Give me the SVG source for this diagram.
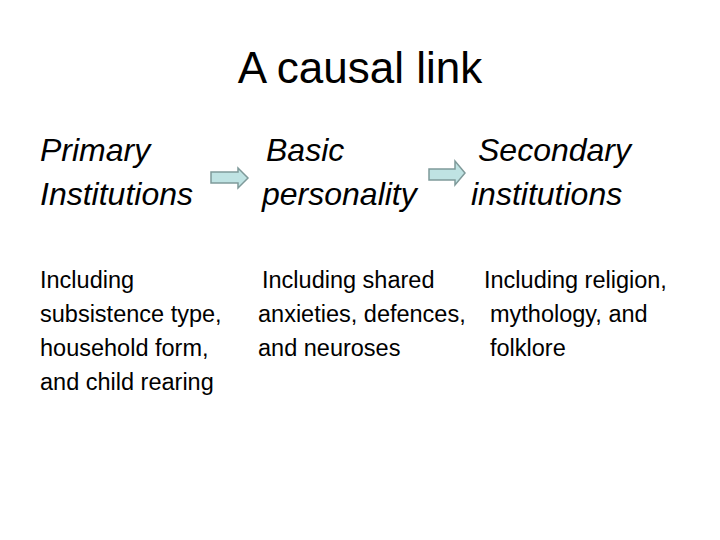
<svg xmlns="http://www.w3.org/2000/svg" width="720" height="540" viewBox="0 0 720 540">
<style>
text{font-family:"Liberation Sans",Arial,sans-serif;fill:#000}
.t{font-size:44px}
.h{font-size:32px;font-style:italic}
.b{font-size:23.5px}
.arr{fill:#bfe3e3;stroke:#7f9a9a;stroke-width:1.5}
</style>
<rect width="720" height="540" fill="#fff"/>
<text class="t" x="360" y="83" text-anchor="middle">A causal link</text>
<g id="primary">
<text class="h" x="40" y="161">Primary</text>
<text class="h" x="40" y="205">Institutions</text>
<text class="b"><tspan x="40" y="288">Including</tspan><tspan x="40" y="322">subsistence type,</tspan><tspan x="40" y="356">household form,</tspan><tspan x="40" y="390">and child rearing</tspan></text>
</g>
<g id="basic">
<text class="h" x="266" y="161">Basic</text>
<text class="h" x="262" y="205">personality</text>
<text class="b"><tspan x="262" y="288">Including shared</tspan><tspan x="258" y="322">anxieties, defences,</tspan><tspan x="258" y="356">and neuroses</tspan></text>
</g>
<g id="secondary">
<text class="h" x="478" y="161">Secondary</text>
<text class="h" x="471" y="205">institutions</text>
<text class="b"><tspan x="484" y="288">Including religion,</tspan><tspan x="490" y="322">mythology, and</tspan><tspan x="490" y="356">folklore</tspan></text>
</g>
<g id="connectors">
<path class="arr" d="M211,172 H238 V168 L248,178 L238,188 V183 H211 Z"/>
<path class="arr" d="M429,169 H455 V161 L465,173 L455,185 V180 H429 Z"/>
</g>
</svg>
